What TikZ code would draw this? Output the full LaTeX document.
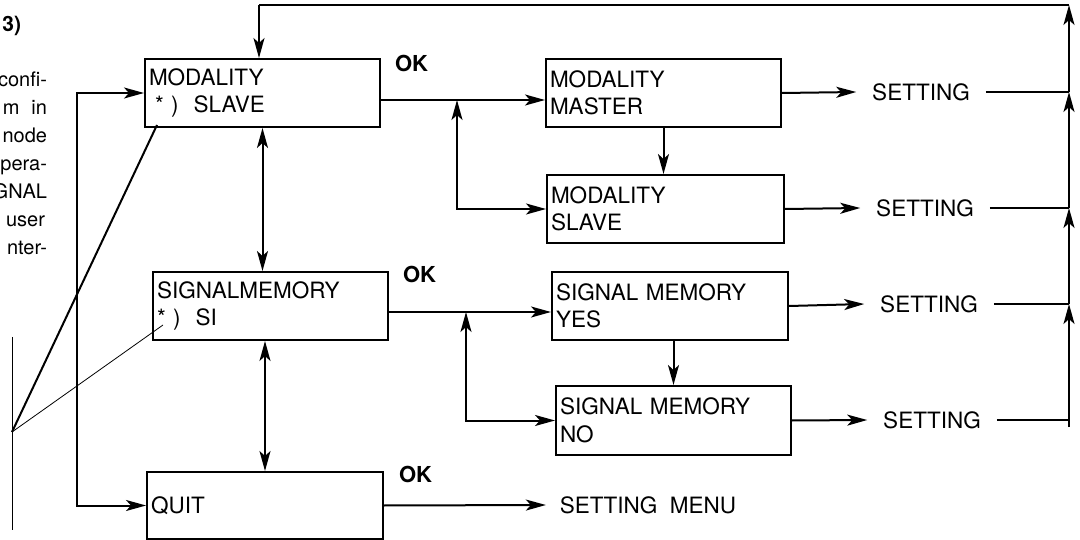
\documentclass[tikz,border=0pt]{standalone}
\usepackage{fontspec}
\setmainfont{TeX Gyre Heros}
\usetikzlibrary{arrows.meta}
\begin{document}
\begin{tikzpicture}[x=1pt,y=-1pt,line width=2pt,
		>={Stealth[length=20pt,width=11pt,inset=5pt]},
		box/.style={draw,rectangle,anchor=north west,align=left,inner xsep=4pt,text width=227pt,minimum height=68pt,font=\fontsize{22.5}{27.5}\selectfont},
		lbl/.style={inner xsep=15pt,inner ysep=2pt,font=\fontsize{22.5}{27.5}\selectfont},
		ok/.style={anchor=base west,inner sep=0pt,font=\fontsize{22}{26}\selectfont\bfseries},
		ptext/.style={anchor=base east,inner sep=0pt,font=\fontsize{20}{28}\selectfont}]
	\useasboundingbox (0,0) rectangle (1080,540);
	
	\node[ptext,font=\fontsize{21}{26}\selectfont\bfseries] (T0) at (22,32) {3)};
	\node[ptext] (T1) at (48,87) {confi-};
	\node[ptext] (T2) at (48,115) {m\hspace{12pt}in};
	\node[ptext] (T3) at (48,143) {node};
	\node[ptext] (T4) at (48,171) {pera-};
	\node[ptext] (T5) at (48,199) {GNAL};
	\node[ptext] (T6) at (46,227) {user};
	\node[ptext] (T7) at (48,255) {nter-};
	
	\node[box] (MA) at (144,58) {MODALITY\\\hspace*{6pt}{*}\ )\ \ SLAVE};
	\node[box] (MB) at (545,58) {MODALITY\\MASTER};
	\node[box,text width=229pt] (MC) at (546,174) {MODALITY\\SLAVE};
	\node[box] (SA) at (152,271) {SIGNALMEMORY\\{*}\ )\ \ SI};
	\node[box,text width=228pt] (SB) at (551,271) {SIGNAL MEMORY\\YES};
	\node[box,minimum height=69pt] (SC) at (555,385) {SIGNAL MEMORY\\NO};
	\node[box,text width=228pt,minimum height=67pt] (QA) at (146,471) {QUIT};
	
	\node[ok] (KA) at (394,72) {OK};
	\node[ok] (KB) at (402,283) {OK};
	\node[ok] (KC) at (398,482) {OK};
	
	\node[lbl] (GA) at (921,92) {SETTING};
	\node[lbl] (GB) at (925,208) {SETTING};
	\node[lbl] (GC) at (929,304) {SETTING};
	\node[lbl] (GD) at (932,420) {SETTING};
	\node[lbl,inner xsep=13pt] (GM) at (648,505) {SETTING~~MENU};
	
	\coordinate (TL) at (259,5);
	\coordinate (TR) at (1069,5);
	\coordinate (RA) at (1069,92);
	\coordinate (RB) at (1069,208);
	\coordinate (RC) at (1069,304);
	\coordinate (RD) at (1069,420);
	\coordinate (RE) at (1069,427);
	\coordinate (JA) at (457,100);
	\coordinate (JB) at (466,312);
	\coordinate (L) at (77,300);
	\coordinate (P) at (12,432);
	\coordinate (PA) at (157,125);
	\coordinate (PB) at (163,325);
	\coordinate (VA) at (12,337);
	\coordinate (VB) at (12,530);
	
	\draw (TR) -- (TL);
	\draw[->] (TL) -- (TL |- MA.north);
	\draw[<->] (MA.west) -| (L |- QA.west) -- (QA.west);
	\draw[->] (MA.east |- JA) -- (JA -| MB.west);
	\draw[<->] (JA) |- (MC.west);
	\draw[->] (MB.south) -- (MB.south |- MC.north);
	\draw[<->] (MA.south) -- (MA.south |- SA.north);
	\draw[->] (SA.east |- JB) -- (JB -| SB.west);
	\draw[<->] (JB) |- (SC.west);
	\draw[->] (SC.north |- SB.south) -- (SC.north);
	\draw[<->] (QA.north |- SA.south) -- (QA.north);
	\draw[->] (QA.east) -- (GM.west);
	
	\draw[->] (MB.east) -- (GA.west);
	\draw[->] (MC.east) -- (GB.west);
	\draw[->] (SB.east) -- (GC.west);
	\draw[->] (SC.east) -- (GD.west);
	\draw (GA.east) -- (RA);
	\draw (GB.east) -- (RB);
	\draw (GC.east) -- (RC);
	\draw (GD.east) -- (RD);
	\draw[->] (RE) -- (RC);
	\draw[->] (RC) -- (RB);
	\draw[->] (RB) -- (RA);
	\draw[->] (RA) -- (TR);
	
	\draw (PA) -- (P);
	\draw[line width=0.8pt] (PB) -- (P);
	\draw[line width=0.8pt] (VA) -- (VB);
\end{tikzpicture}
\end{document}
